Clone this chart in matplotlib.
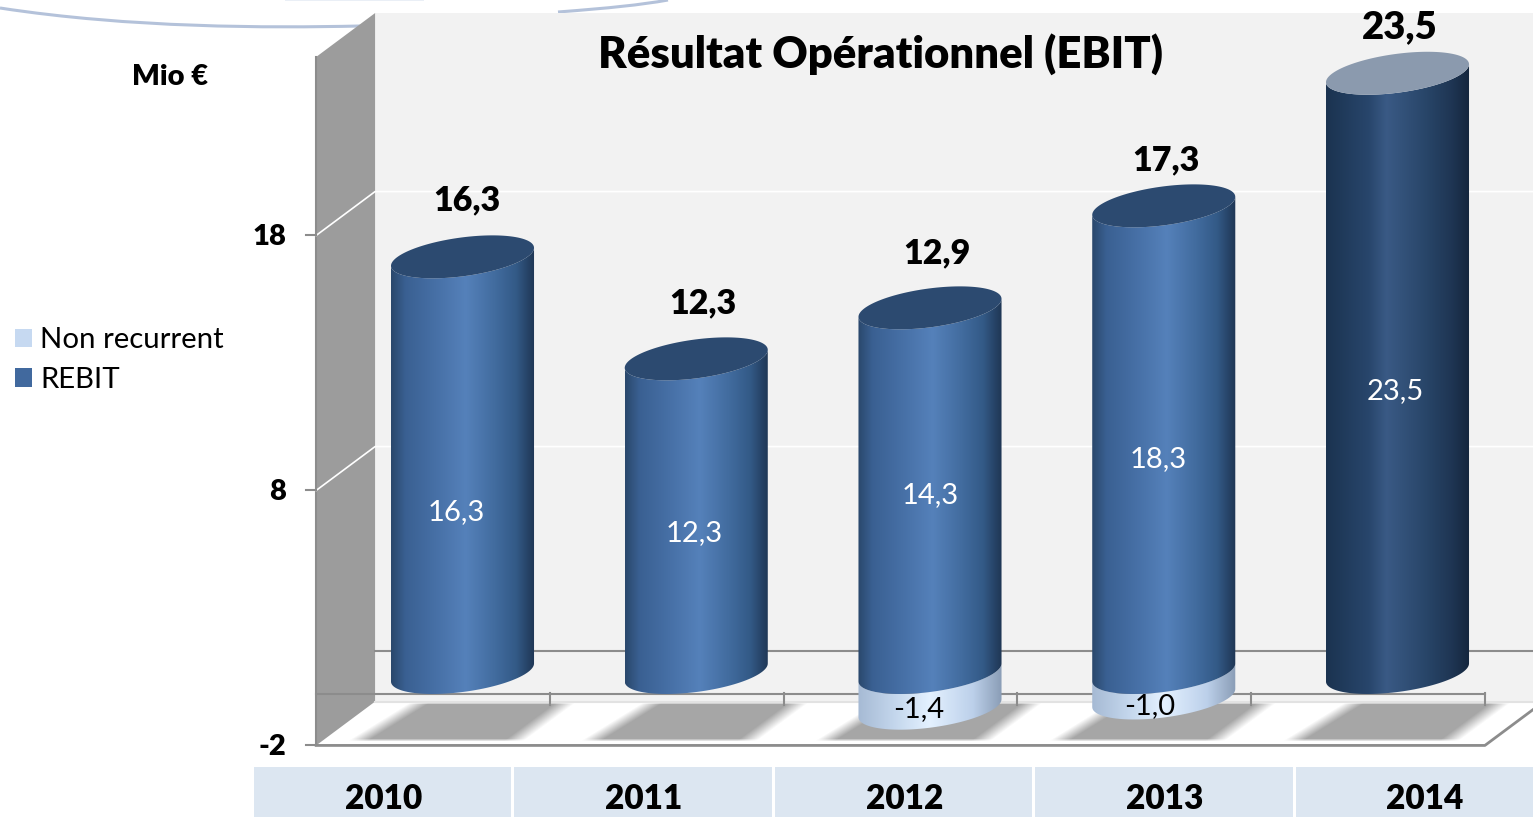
import numpy as np
import matplotlib
matplotlib.use('Agg')
import matplotlib.pyplot as plt
from matplotlib.colors import LinearSegmentedColormap, to_rgb
from matplotlib.patches import Polygon, PathPatch, Rectangle, Patch
from matplotlib.path import Path

years = ['2010', '2011', '2012', '2013', '2014']
rebit = [16.3, 12.3, 14.3, 18.3, 23.5]
non_recurrent = [0, 0, -1.4, -1.0, 0]
ebit_total = [16.3, 12.3, 12.9, 17.3, 23.5]
y_ticks = [-2, 8, 18]
title = 'Résultat Opérationnel (EBIT)'

# scale of the picture: one category and one million in pixels
CAT_PX = 233.75
UNIT_PX = 25.5
X0_PX = 462.5
Y0_PX = 672.5
W, H = 1533, 817

# fake 3d settings
DEPTH_X = 0.126
DEPTH_Y = 0.86
Y_MIN = -2
Y_MAX = 25
HALF_W = 0.306
RIM_K = 0.353
RIM_B = 0.765

# where labels sit, as height on the value scale
inner_label_y = [6.31, 5.47, 6.96, 8.37, 11.02]
inner_label_dx = [-0.025, -0.01, 0.0, -0.025, -0.01]
neg_label_y = [0, 0, -1.42, -1.33, 0]
neg_label_dx = [0, 0, -0.048, -0.062, 0]
top_label_y = [18.51, 14.49, 16.43, 20.09, 25.29]
top_label_dx = [0.02, 0.03, 0.03, 0.01, 0.01]
top_label_size = [24.5, 24.5, 24.5, 24.5, 27.5]

BOLD = 'heavy'

blue_cmap = LinearSegmentedColormap.from_list('blue', [
    (0, '#2a486c'), (0.1, '#3a6092'), (0.3, '#466fa5'), (0.52, '#5581ba'),
    (0.72, '#426c9f'), (0.87, '#335a87'), (1, '#1f3654')])
dark_cmap = LinearSegmentedColormap.from_list('dark', [
    (0, '#1b3350'), (0.3, '#28466c'), (0.42, '#3a5a85'), (0.7, '#284568'),
    (0.87, '#1f3654'), (1, '#14263d')])
light_cmap = LinearSegmentedColormap.from_list('light', [
    (0, '#a6bad4'), (0.25, '#c3d6ec'), (0.5, '#e4f1ff'), (0.8, '#bcd0ea'), (1, '#8a9db6')])


def px(x, y):
    return (x - X0_PX) / CAT_PX, (Y0_PX - y) / UNIT_PX


def rim(cx, v, t):
    x = cx + HALF_W * np.cos(t)
    y = v + RIM_K * np.cos(t) + RIM_B * np.sin(t)
    return np.column_stack([x, y])


def draw_cylinder(ax, cx, low, high, cmap, z):
    lower = rim(cx, low, np.linspace(np.pi, 2 * np.pi, 60))
    upper = rim(cx, high, np.linspace(2 * np.pi, np.pi, 60))
    pts = np.vstack([lower, upper, lower[:1]])
    body = PathPatch(Path(pts), transform=ax.transData, fc='none', ec='none')
    ax.add_patch(body)
    grad = np.linspace(0, 1, 256).reshape(1, -1)
    im = ax.imshow(grad, cmap=cmap, aspect='auto', zorder=z, interpolation='bilinear',
                   extent=[cx - HALF_W, cx + HALF_W, low - 2, high + 2])
    im.set_clip_path(body)


def draw_cap(ax, cx, v, color, z):
    t = np.linspace(0, 2 * np.pi, 120)
    ax.add_patch(Polygon(rim(cx, v, t), closed=True, fc=color, ec='none', zorder=z))


def draw_shadow(ax, cx):
    # sheared band on the floor, soft at its two ends
    xs = np.arange(-125, 125)
    ys = np.arange(700, 743)
    gx, gy = np.meshgrid(xs, ys)
    f = (gy - 703) / 37
    left = -45 - 60 * f
    right = 101 - 50 * f
    soft = 20
    a = np.clip((gx - left) / soft + 0.5, 0, 1) * np.clip((right - gx) / soft + 0.5, 0, 1)
    a = a * np.clip((gy - 702) / 2, 0, 1) * np.clip((741 - gy) / 3, 0, 1)
    rgba = np.zeros(a.shape + (4,))
    rgba[..., :3] = to_rgb('#a6a6a6')
    rgba[..., 3] = a
    x0, y0 = px(X0_PX + cx * CAT_PX - 125, 743)
    x1, y1 = px(X0_PX + cx * CAT_PX + 125, 700)
    ax.imshow(rgba, aspect='auto', extent=[x0, x1, y0, y1], zorder=3, interpolation='bilinear')


plt.rcParams['font.family'] = ['Lato', 'DejaVu Sans']
fig = plt.figure(figsize=(W / 100, H / 100), dpi=100)
ax = fig.add_axes([0, 0, 1, 1])
ax.set_axis_off()

x_l = -0.5
x_r = len(years) - 0.5
back = lambda x, y: (x + DEPTH_X, y + DEPTH_Y)
front = lambda x, y: (x - DEPTH_X, y - DEPTH_Y)
GREY = '#8c8c8c'

# swoosh of the slide background, behind the chart
for verts in ([(0, 8), (130, 28), (268, 28), (360, 26)], [(558, 12), (610, 8), (640, 5), (668, 0)]):
    p = Path([px(*v) for v in verts], [Path.MOVETO, Path.CURVE4, Path.CURVE4, Path.CURVE4])
    ax.add_patch(PathPatch(p, fc='none', ec='#b4c2da', lw=2.2, zorder=1))
p = Path([px(285, 0), px(424, 0)])
ax.add_patch(PathPatch(p, fc='none', ec='#e6ecf5', lw=1.2, zorder=1))

# walls and floor
ax.add_patch(Polygon([back(x_l, Y_MIN), back(x_l, Y_MAX), back(x_r, Y_MAX), back(x_r, Y_MIN)],
                     fc='#f2f2f2', ec='none', zorder=2))
ax.add_patch(Polygon([front(x_l, Y_MIN), front(x_l, Y_MAX), back(x_l, Y_MAX), back(x_l, Y_MIN)],
                     fc='#9c9c9c', ec='none', zorder=2))
ax.plot(*zip(front(x_l, Y_MIN), front(x_l, Y_MAX)), color=GREY, lw=1.5, zorder=3)
ax.plot(*zip(back(x_l, Y_MIN), back(x_r, Y_MIN)), color='#e2e2e2', lw=1.5, zorder=3)

for tick in y_ticks[1:]:
    ax.plot(*zip(front(x_l, tick), back(x_l, tick), back(x_r, tick)), color='white', lw=1.2, zorder=3)

for i in range(len(years)):
    draw_shadow(ax, i)

# zero lines and axis lines
ax.plot(*zip(back(x_l, 0), back(x_r, 0)), color=GREY, lw=1.5, zorder=4)
ax.plot(*zip(front(x_l, 0), front(x_r, 0)), color=GREY, lw=1.5, zorder=4)
ax.plot(*zip(front(x_l, Y_MIN), front(x_r, Y_MIN), back(x_r, Y_MIN)), color=GREY, lw=2, zorder=4)
for i in range(len(years)):
    xt = i + 0.5
    ax.plot(*zip(front(xt, 0.05), front(xt, -0.42)), color=GREY, lw=1.5, zorder=4)

for tick in y_ticks:
    fx, fy = front(x_l, tick)
    ax.plot([fx - 10 / CAT_PX, fx], [fy, fy], color=GREY, lw=1.5, zorder=4)
    ax.text(fx - 30 / CAT_PX, fy - 0.07, str(tick), ha='right', va='center', fontsize=21,
            fontweight=BOLD, zorder=6)

# cylinders
for i in range(len(years)):
    z = 5 + i * 0.1
    cmap = dark_cmap if i == len(years) - 1 else blue_cmap
    cap = '#8b9aae' if i == len(years) - 1 else '#2c4a70'
    if non_recurrent[i] < 0:
        draw_cylinder(ax, i, non_recurrent[i], 0, light_cmap, z)
    draw_cylinder(ax, i, 0, rebit[i], cmap, z + 0.01)
    draw_cap(ax, i, rebit[i], cap, z + 0.02)
    if non_recurrent[i] < 0:
        ax.text(i + neg_label_dx[i], neg_label_y[i], f'{non_recurrent[i]:.1f}'.replace('.', ','),
                ha='center', va='center', fontsize=21, color='black', zorder=7)
    ax.text(i + inner_label_dx[i], inner_label_y[i], f'{rebit[i]:.1f}'.replace('.', ','),
            ha='center', va='center', fontsize=21, color='white', zorder=7)
    ax.text(i + top_label_dx[i], top_label_y[i], f'{ebit_total[i]:.1f}'.replace('.', ','),
            ha='center', va='center', fontsize=top_label_size[i], fontweight=BOLD, color='black', zorder=7)

# category strip under the chart
cell_edges = [254, 514, 775, 1035, 1296, 1533]
year_x = [384, 644, 905, 1165, 1425]
for i, year in enumerate(years):
    x0, y0 = px(cell_edges[i], 817)
    x1, y1 = px(cell_edges[i + 1] - (3 if i < len(years) - 1 else 0), 767)
    ax.add_patch(Rectangle((x0, y0), x1 - x0, y1 - y0, fc='#dce6f1', ec='none', zorder=2))
    ax.text(px(year_x[i], 0)[0], px(0, 799)[1], year, ha='center', va='center',
            fontsize=24, fontweight=BOLD, zorder=6)

ax.text(*px(880, 54), title, ha='center', va='center', fontsize=31.4, fontweight=BOLD, zorder=7)
ax.text(*px(170, 77), 'Mio €', ha='center', va='center', fontsize=21, fontweight=BOLD, zorder=7)

handles = [Patch(fc='#c6d9f1', label='Non recurrent'), Patch(fc='#41699e', label='REBIT')]
ax.legend(handles=handles, loc='upper left', bbox_to_anchor=px(-12, 301), bbox_transform=ax.transData,
          frameon=False, fontsize=21.2, handlelength=0.6, handleheight=0.6, handletextpad=0.28,
          labelspacing=0.45, borderpad=0.4)

ax.set_xlim(px(0, 0)[0], px(W, 0)[0])
ax.set_ylim(px(0, H)[1], px(0, 0)[1])
fig.savefig('out.png', dpi=100)
